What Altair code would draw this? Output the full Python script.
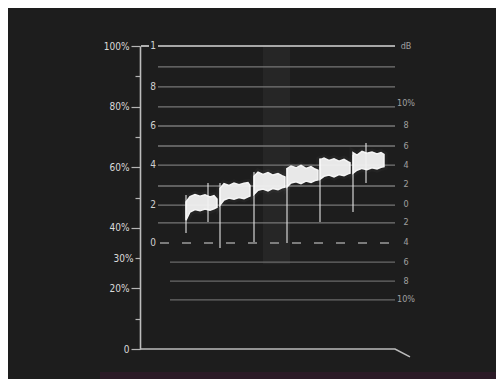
import altair as alt
import pandas as pd

# ---------------- data (levels in % of full scale, x in sweep units) ----------------
grat_levels = [93.1, 86.5, 79.9, 73.6, 67.0, 60.7, 53.8, 47.5, 41.6]
low_levels = [28.7, 22.4, 16.2]
dash_level = [35.0]
top_level = [100.0]

inner_labels = ["1", "8", "6", "4", "2", "0"]
inner_levels = [100, 86.5, 73.6, 60.7, 47.5, 35.0]

right_labels = ["dB", "10%", "8", "6", "4", "2", "0", "2", "4", "6", "8", "10%"]
right_levels = [100, 81.2, 74.0, 67.0, 60.7, 54.3, 48.0, 41.8, 35.2, 28.7, 22.4, 16.4]

# six luminance steps (band envelopes)
b1_x = [46, 50, 55, 60, 65, 70, 74, 77]
b1_top = [48.5, 50.3, 51.0, 50.4, 50.9, 50.2, 50.6, 49.5]
b1_bot = [42.5, 45.2, 46.0, 45.6, 46.2, 45.8, 46.3, 46.8]

b2_x = [80, 84, 89, 94, 99, 104, 108, 110]
b2_top = [53.0, 54.6, 54.0, 54.8, 54.2, 54.7, 54.9, 54.0]
b2_bot = [47.5, 49.2, 49.8, 49.4, 50.0, 49.6, 50.2, 50.5]

b3_x = [114, 118, 123, 128, 133, 138, 142, 145]
b3_top = [57.0, 58.4, 57.6, 58.2, 57.4, 57.9, 57.2, 56.8]
b3_bot = [51.0, 52.4, 52.8, 52.2, 53.0, 52.6, 53.2, 53.4]

b4_x = [147, 151, 156, 161, 166, 171, 175, 178]
b4_top = [59.5, 60.4, 59.8, 60.6, 59.6, 60.2, 59.4, 59.0]
b4_bot = [53.5, 54.8, 55.2, 54.6, 55.4, 55.0, 55.6, 55.8]

b5_x = [180, 184, 189, 194, 199, 204, 208, 210]
b5_top = [62.5, 63.0, 62.2, 62.8, 62.0, 62.6, 61.8, 61.5]
b5_bot = [56.0, 57.0, 57.4, 56.8, 57.6, 57.2, 57.8, 58.0]

b6_x = [213, 217, 222, 227, 232, 237, 241, 244]
b6_top = [64.8, 64.0, 65.2, 64.6, 65.0, 64.4, 64.8, 64.2]
b6_bot = [58.0, 59.0, 59.6, 59.2, 59.8, 59.4, 60.0, 60.2]

# transient spikes
spike_x = [46, 68, 80, 114, 147, 180, 213, 226]
spike_top = [50.8, 54.8, 54.8, 58.4, 59.7, 63.0, 64.0, 68.0]
spike_bot = [38.3, 41.9, 33.3, 35.3, 35.0, 41.9, 45.2, 54.8]

# ---------------- build tables ----------------
XD = [0, 356]
YD = [0, 100]
xs = alt.Scale(domain=XD, nice=False, zero=False)
ys = alt.Scale(domain=YD, nice=False, zero=False)

yaxis = alt.Axis(
    values=list(range(0, 101, 10)),
    labelExpr=("datum.value == 0 ? '0' : ((datum.value == 20 || datum.value == 30 || datum.value == 40 || "
               "datum.value == 60 || datum.value == 80 || datum.value == 100) ? datum.value + '%' : '')"),
    tickSize={"expr": "(datum.value % 20 == 0) ? 9 : 5"},
    tickColor="#b5b5b5", tickWidth=1.2,
    domainColor="#bdbdbd", domainWidth=1.6,
    labelColor="#dadada", labelFont="DejaVu Sans Condensed", labelFontSize=10,
    labelPadding=2, grid=False, title=None,
)


def X(f):
    return alt.X(f, type="quantitative", scale=xs, axis=None)


def Y(f):
    return alt.Y(f, type="quantitative", scale=ys, axis=yaxis)


bands = []
for i, (bx, bt, bb) in enumerate([(b1_x, b1_top, b1_bot), (b2_x, b2_top, b2_bot),
                                   (b3_x, b3_top, b3_bot), (b4_x, b4_top, b4_bot),
                                   (b5_x, b5_top, b5_bot), (b6_x, b6_top, b6_bot)]):
    for x, t, b in zip(bx, bt, bb):
        bands.append({"block": i, "x": x, "top": t, "bot": b})
bands = pd.DataFrame(bands)

grat = pd.DataFrame({"x": 18, "x2": 255, "y": grat_levels})
low = pd.DataFrame({"x": 30, "x2": 255, "y": low_levels})
dash = pd.DataFrame({"x": 20, "x2": 262, "y": dash_level})
top = pd.DataFrame({"x": [1, 18], "x2": [9, 255], "y": top_level * 2})
bottom = pd.DataFrame({"x": [0, 255, 270], "y": [0, 0, -2.6]})
inner = pd.DataFrame({"x": 13, "y": inner_levels, "t": inner_labels})
right = pd.DataFrame({"x": 266, "y": right_levels, "t": right_labels})
spikes = pd.DataFrame({"x": spike_x, "y": spike_top, "y2": spike_bot})
hatch = pd.DataFrame({"x": [123], "x2": [150], "y": [28.0], "y2": [100.0]})
strip = pd.DataFrame({"x": [-40], "x2": [356], "y": [-7.6], "y2": [-10.0]})

layers = [
    alt.Chart(strip).mark_rect(color="#2b1a26").encode(x=X("x"), x2="x2", y=Y("y"), y2="y2"),
    alt.Chart(hatch).mark_rect(color="#3a3a3a", opacity=0.3).encode(x=X("x"), x2="x2", y=Y("y"), y2="y2"),
    alt.Chart(grat).mark_rule(color="#777777", strokeWidth=1.3).encode(x=X("x"), x2="x2", y=Y("y")),
    alt.Chart(low).mark_rule(color="#6a6a6a", strokeWidth=1.3).encode(x=X("x"), x2="x2", y=Y("y")),
    alt.Chart(dash).mark_rule(color="#9a9a9a", strokeWidth=1.5, strokeDash=[9, 13]).encode(x=X("x"), x2="x2", y=Y("y")),
    alt.Chart(top).mark_rule(color="#d6d6d6", strokeWidth=1.6).encode(x=X("x"), x2="x2", y=Y("y")),
    alt.Chart(bottom).mark_line(color="#bcbcbc", strokeWidth=1.6).encode(x=X("x"), y=Y("y")),
    alt.Chart(inner).mark_text(color="#d0d0d0", font="DejaVu Sans Condensed", fontSize=10, align="center", baseline="middle").encode(x=X("x"), y=Y("y"), text="t"),
    alt.Chart(right).mark_text(color="#a0a0a0", font="DejaVu Sans Condensed", fontSize=9, align="center", baseline="middle").encode(x=X("x"), y=Y("y"), text="t"),
    alt.Chart(bands).mark_area(color="#ffffff", opacity=0.15, stroke="#ffffff", strokeWidth=7, strokeOpacity=0.18).encode(x=X("x"), y=Y("top"), y2="bot", detail="block:N"),
    alt.Chart(spikes).mark_rule(color="#e0e0e0", strokeWidth=1.5, opacity=0.75).encode(x=X("x"), y=Y("y"), y2="y2"),
    alt.Chart(bands).mark_area(color="#f2f2f2", opacity=0.95, stroke="#ffffff", strokeWidth=1.5).encode(x=X("x"), y=Y("top"), y2="bot", detail="block:N"),
]

chart = alt.layer(*layers).properties(
    width=356, height=303,
    autosize=alt.AutoSizeParams(type="none"),
    padding={"left": 132, "top": 38, "right": 0, "bottom": 30},
    background="#1d1d1d",
).configure_view(stroke=None)

chart.save("out.html", embed_options={"renderer": "svg", "actions": False})
